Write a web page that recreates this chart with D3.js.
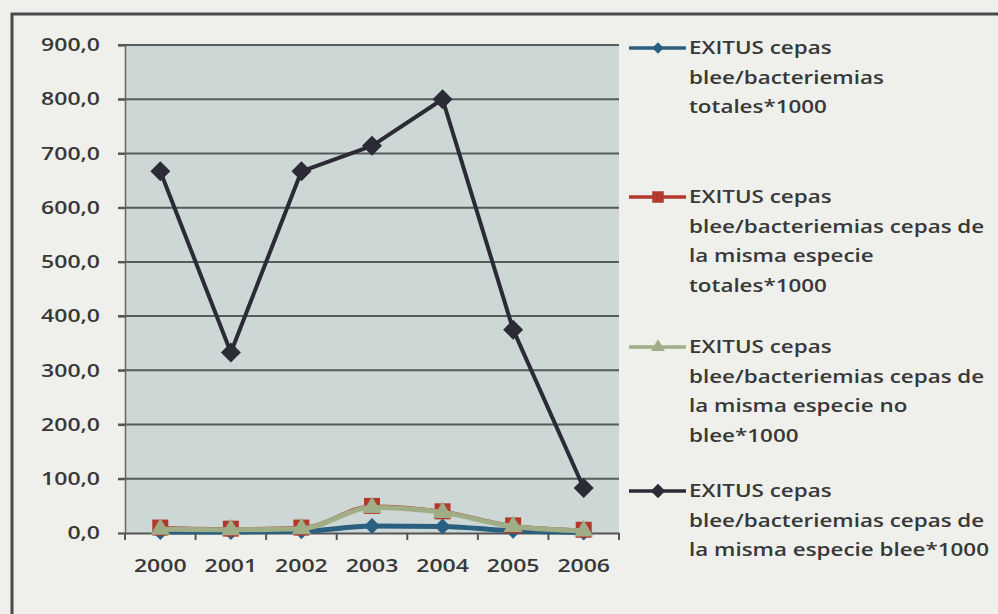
<!DOCTYPE html>
<html>
<head>
<meta charset="utf-8">
<script src="https://cdn.jsdelivr.net/npm/d3@7"></script>
<style>
  html, body { margin: 0; padding: 0; background: #eff0ec; }
  svg { display: block; }
  text { font-family: "Open Sans", Lato, sans-serif; fill: #383838; font-weight: 600; }
</style>
</head>
<body>
<svg id="chart" width="998" height="614"></svg>
<script>
const years = ["2000", "2001", "2002", "2003", "2004", "2005", "2006"];
const yTicks = [0, 100, 200, 300, 400, 500, 600, 700, 800, 900];

const seriesTotales = [2, 2, 3, 13, 12, 4, 1];
const seriesMismaTotales = [10, 8, 10, 50, 40, 14, 6];
const seriesMismaNoBlee = [7, 6, 8, 47, 38, 12, 4];
const seriesMismaBlee = [667, 333, 667, 714, 800, 375, 83];

const seriesNames = [
  ["EXITUS cepas", "blee/bacteriemias", "totales*1000"],
  ["EXITUS cepas", "blee/bacteriemias cepas de", "la misma especie", "totales*1000"],
  ["EXITUS cepas", "blee/bacteriemias cepas de", "la misma especie no", "blee*1000"],
  ["EXITUS cepas", "blee/bacteriemias cepas de", "la misma especie blee*1000"]
];

const series = [
  { values: seriesTotales, color: "#2b5f80", marker: "diamond", big: false, width: 5, name: seriesNames[0] },
  { values: seriesMismaTotales, color: "#b2392c", marker: "square", big: false, width: 3, name: seriesNames[1] },
  { values: seriesMismaNoBlee, color: "#9fae86", marker: "triangle", big: false, width: 5, name: seriesNames[2] },
  { values: seriesMismaBlee, color: "#2b2b36", marker: "diamond", big: true, width: 4, name: seriesNames[3] }
];

const SX = 1.28;   // horizontal stretch of the scanned axis text
const SXL = 1.245; // horizontal stretch of the legend text
const svg = d3.select("#chart");
const plot = { left: 125, right: 619, top: 45, bottom: 533 };

// outer frame
svg.append("path")
  .attr("d", "M12,640 L12,14 L1000,14")
  .attr("fill", "none").attr("stroke", "#4a4a4a").attr("stroke-width", 3);

const x = d3.scaleBand().domain(years).range([plot.left, plot.right]);
const y = d3.scaleLinear().domain([0, 900]).range([plot.bottom, plot.top]);

svg.append("rect")
  .attr("x", plot.left).attr("y", plot.top)
  .attr("width", plot.right - plot.left).attr("height", plot.bottom - plot.top)
  .attr("fill", "#cdd7d5");

// gridlines
svg.append("g").selectAll("line").data(yTicks.filter(d => d > 0)).join("line")
  .attr("x1", plot.left - 7).attr("x2", plot.right)
  .attr("y1", d => y(d)).attr("y2", d => y(d))
  .attr("stroke", "#555a5a").attr("stroke-width", 2);

// y axis
const yAxis = svg.append("g").attr("transform", `translate(${plot.left},0)`)
  .call(d3.axisLeft(y).tickValues(yTicks).tickSize(7).tickPadding(25)
    .tickFormat(d => d3.format(".1f")(d).replace(".", ",")));
yAxis.select(".domain").attr("stroke", "#666").attr("stroke-width", 1.5);
yAxis.selectAll(".tick line").attr("stroke", "#555").attr("stroke-width", 2);
yAxis.selectAll("text").style("font-size", "18px")
  .attr("x", -25 / SX).attr("transform", `scale(${SX},1)`);

// x axis
const xAxis = svg.append("g").attr("transform", `translate(0,${plot.bottom})`)
  .call(d3.axisBottom(x).tickSize(0).tickPadding(26));
xAxis.select(".domain").attr("stroke", "#555").attr("stroke-width", 2);
xAxis.selectAll("text").style("font-size", "18px").attr("transform", `scale(${SX},1)`);
// boundary ticks between categories
const bounds = years.map(d => x(d)).concat([x.range()[1]]);
svg.append("g").selectAll("line").data(bounds).join("line")
  .attr("x1", d => d).attr("x2", d => d)
  .attr("y1", plot.bottom).attr("y2", plot.bottom + 7)
  .attr("stroke", "#555").attr("stroke-width", 2);

const cx = d => x(d) + x.bandwidth() / 2;
function diamondPath(s) { return `M0,${-s} L${s},0 L0,${s} L${-s},0 Z`; }

function marker(g, s, scale) {
  if (s.marker === "diamond") g.append("path").attr("d", diamondPath((s.big ? 10 : 8) * scale)).attr("fill", s.color);
  else if (s.marker === "square") {
    const h = 8 * scale;
    g.append("rect").attr("x", -h).attr("y", -h).attr("width", 2 * h).attr("height", 2 * h).attr("fill", s.color);
  } else g.append("path").attr("d", d3.symbol(d3.symbolTriangle, 160 * scale * scale)()).attr("fill", s.color);
}

series.forEach(s => {
  const line = d3.line().x((d, i) => cx(years[i])).y(d => y(d))
    .curve(s.big ? d3.curveLinear : d3.curveMonotoneX);
  svg.append("path").datum(s.values)
    .attr("d", line)
    .attr("fill", "none").attr("stroke", s.color)
    .attr("stroke-width", s.width)
    .attr("stroke-linejoin", "round");
  svg.append("g").selectAll("g").data(s.values).join("g")
    .attr("transform", (d, i) => `translate(${cx(years[i])},${y(d)})`)
    .each(function () { marker(d3.select(this), s, 1); });
});

// legend
const legendStarts = [48, 197, 347, 491];
const lineH = 29.5;
series.forEach((s, k) => {
  const ly = legendStarts[k];
  svg.append("line").attr("x1", 629).attr("x2", 686).attr("y1", ly).attr("y2", ly)
    .attr("stroke", s.color).attr("stroke-width", 3.5);
  const g = svg.append("g").attr("transform", `translate(658,${ly})`);
  marker(g, s, 0.72);
  const tg = svg.append("g").attr("transform", `translate(689,${ly}) scale(${SXL},1)`);
  s.name.forEach((t, j) => {
    tg.append("text").attr("x", 0).attr("y", j * lineH)
      .attr("dy", "0.35em").style("font-size", "18px").text(t);
  });
});
</script>
</body>
</html>
